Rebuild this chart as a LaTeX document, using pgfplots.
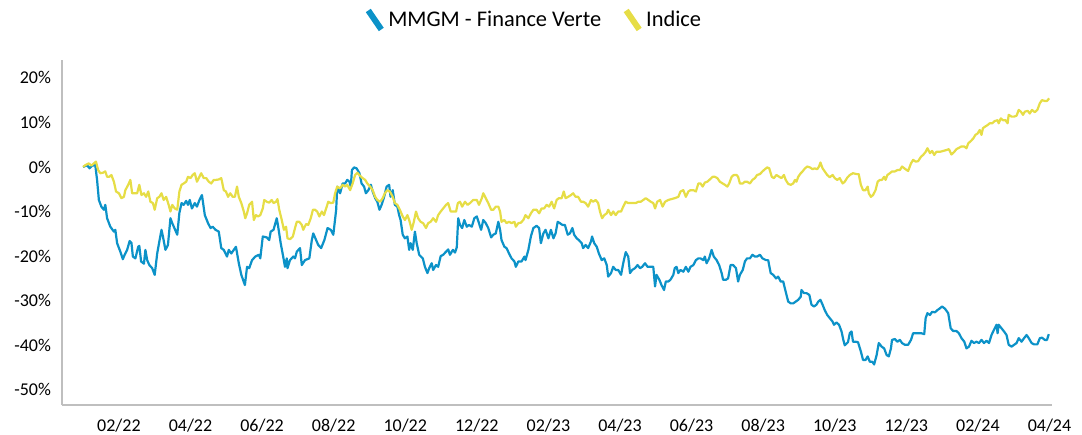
\documentclass[border=0pt]{standalone}
\usepackage{fontspec}
\setmainfont{Carlito}
\usepackage{pgfplots}
\usepackage{pgfplotstable}
\pgfplotsset{compat=1.18}
\definecolor{fundblue}{RGB}{12,146,200}
\definecolor{idxyellow}{RGB}{230,221,70}
\definecolor{axgray}{RGB}{191,191,191}

\pgfplotstableread{
m v
0.00 0.0
0.11 0.4
0.18 -0.3
0.25 0.3
0.34 0.4
0.39 -2.9
0.44 -7.4
0.51 -8.9
0.58 -9.6
0.62 -8.5
0.67 -11.5
0.76 -13.4
0.86 -14.5
0.90 -14.1
0.95 -17.1
1.04 -19.0
1.11 -20.7
1.16 -19.7
1.23 -18.6
1.30 -16.6
1.35 -17.0
1.39 -20.1
1.46 -20.5
1.54 -17.9
1.57 -17.7
1.62 -21.2
1.70 -21.7
1.74 -18.6
1.79 -20.9
1.85 -22.0
1.93 -22.7
2.00 -24.2
2.07 -19.4
2.13 -16.7
2.19 -14.1
2.23 -15.6
2.30 -18.6
2.37 -17.5
2.44 -11.5
2.49 -12.6
2.55 -13.7
2.63 -15.2
2.69 -10.3
2.75 -8.1
2.81 -8.5
2.88 -7.6
2.93 -8.5
2.98 -7.4
3.04 -9.3
3.12 -8.1
3.18 -8.9
3.25 -7.4
3.32 -6.3
3.40 -10.8
3.49 -12.6
3.56 -13.7
3.62 -13.4
3.70 -14.1
3.79 -14.5
3.86 -18.2
3.93 -18.6
4.02 -20.1
4.07 -18.6
4.14 -19.4
4.21 -18.6
4.27 -17.9
4.35 -21.6
4.42 -24.2
4.52 -26.5
4.58 -22.4
4.64 -22.7
4.72 -20.9
4.81 -20.1
4.91 -19.7
4.95 -20.5
5.02 -15.6
5.13 -15.8
5.20 -16.4
5.24 -14.5
5.32 -14.1
5.41 -11.5
5.45 -13.4
5.52 -17.1
5.59 -20.1
5.64 -22.4
5.69 -20.5
5.71 -22.7
5.78 -20.9
5.87 -20.1
5.92 -20.5
5.97 -19.0
6.06 -18.2
6.11 -22.0
6.20 -20.9
6.32 -20.5
6.39 -16.4
6.43 -14.9
6.51 -16.4
6.57 -17.5
6.65 -18.2
6.74 -16.4
6.83 -13.7
6.92 -14.1
6.99 -15.2
7.07 -9.6
7.10 -4.4
7.18 -5.9
7.25 -3.7
7.32 -3.7
7.38 -2.9
7.44 -3.3
7.48 -4.4
7.51 -0.7
7.57 -0.1
7.64 -0.3
7.72 -1.4
7.78 -3.7
7.85 -4.4
7.90 -5.9
7.97 -5.2
8.04 -4.0
8.09 -5.5
8.16 -7.0
8.22 -7.8
8.28 -9.6
8.34 -8.5
8.41 -6.7
8.48 -4.4
8.55 -4.0
8.59 -6.7
8.65 -5.2
8.71 -8.5
8.78 -8.9
8.83 -10.8
8.87 -11.9
8.93 -15.2
8.99 -16.0
9.06 -15.6
9.11 -18.6
9.15 -17.1
9.21 -18.6
9.27 -14.5
9.32 -17.1
9.39 -19.7
9.49 -20.5
9.55 -22.4
9.62 -23.8
9.67 -22.7
9.74 -21.6
9.78 -23.1
9.86 -22.0
9.92 -22.4
9.99 -20.0
10.06 -19.7
10.14 -19.0
10.20 -18.5
10.25 -19.7
10.33 -18.6
10.39 -19.2
10.44 -18.0
10.48 -11.5
10.53 -13.0
10.59 -13.7
10.65 -11.9
10.72 -13.4
10.78 -13.0
10.86 -13.4
10.93 -11.5
11.00 -11.1
11.06 -12.6
11.12 -14.1
11.18 -11.9
11.25 -12.6
11.32 -13.7
11.40 -15.8
11.46 -15.2
11.53 -14.9
11.60 -12.3
11.65 -14.1
11.69 -16.4
11.77 -17.9
11.83 -18.2
11.90 -19.4
11.97 -20.5
12.05 -21.2
12.09 -22.4
12.16 -21.2
12.25 -21.2
12.33 -20.1
12.36 -20.9
12.44 -18.6
12.51 -15.6
12.58 -13.7
12.67 -13.2
12.74 -13.7
12.79 -17.1
12.86 -14.9
12.92 -14.1
13.00 -16.0
13.07 -14.1
13.14 -16.0
13.20 -14.9
13.26 -12.3
13.32 -12.6
13.39 -13.0
13.46 -13.0
13.54 -15.2
13.60 -14.9
13.67 -13.7
13.72 -15.2
13.79 -16.0
13.85 -16.4
13.93 -17.1
13.97 -18.2
14.04 -17.5
14.11 -18.2
14.19 -16.7
14.22 -15.6
14.28 -17.1
14.35 -17.9
14.41 -19.4
14.49 -20.9
14.56 -20.5
14.63 -22.0
14.67 -24.6
14.75 -23.8
14.81 -22.4
14.88 -23.1
14.95 -23.1
15.03 -24.2
15.09 -21.6
15.16 -19.1
15.23 -20.1
15.28 -23.8
15.34 -23.1
15.42 -22.7
15.49 -22.0
15.56 -22.7
15.62 -22.4
15.70 -21.6
15.77 -22.4
15.84 -22.4
15.93 -22.4
15.98 -26.8
16.02 -24.2
16.10 -25.3
16.16 -26.5
16.23 -27.6
16.28 -25.7
16.35 -25.7
16.41 -25.3
16.49 -24.2
16.53 -22.7
16.58 -22.4
16.63 -23.8
16.69 -23.1
16.77 -23.5
16.84 -22.4
16.91 -23.5
16.97 -22.4
17.05 -22.0
17.12 -20.9
17.19 -20.5
17.25 -20.5
17.33 -20.9
17.37 -20.1
17.42 -21.6
17.49 -20.5
17.56 -18.6
17.62 -20.1
17.70 -20.9
17.77 -22.0
17.84 -23.8
17.88 -25.3
17.96 -25.3
18.02 -25.0
18.09 -22.0
18.16 -22.0
18.24 -22.7
18.30 -25.7
18.35 -24.2
18.43 -23.1
18.49 -21.2
18.55 -20.5
18.63 -20.5
18.70 -19.7
18.77 -20.1
18.83 -20.1
18.91 -19.7
18.98 -20.5
19.08 -20.9
19.14 -20.9
19.21 -23.8
19.28 -24.2
19.36 -25.0
19.42 -24.6
19.49 -25.7
19.56 -25.7
19.63 -28.0
19.70 -30.2
19.77 -30.6
19.84 -30.6
19.91 -30.2
19.98 -29.8
20.05 -29.1
20.07 -27.6
20.14 -28.3
20.21 -28.3
20.29 -28.7
20.35 -30.9
20.42 -31.3
20.49 -30.9
20.54 -30.2
20.60 -29.8
20.66 -30.9
20.72 -32.1
20.79 -33.2
20.86 -33.9
20.94 -34.7
20.98 -35.4
21.05 -34.9
21.12 -35.4
21.19 -36.9
21.24 -38.8
21.28 -40.0
21.37 -39.3
21.42 -37.3
21.47 -36.9
21.51 -39.2
21.58 -39.2
21.65 -39.3
21.73 -41.4
21.79 -43.3
21.86 -43.3
21.92 -42.5
21.98 -43.7
22.05 -43.7
22.10 -44.3
22.17 -42.2
22.23 -39.5
22.31 -40.3
22.38 -40.7
22.45 -42.2
22.51 -42.5
22.57 -40.7
22.60 -38.8
22.68 -38.6
22.75 -39.2
22.82 -38.8
22.88 -39.5
22.96 -39.9
23.05 -39.9
23.13 -38.8
23.19 -37.3
23.26 -37.3
23.33 -37.3
23.42 -37.3
23.50 -37.5
23.54 -33.9
23.59 -32.8
23.66 -33.2
23.72 -32.5
23.80 -32.6
23.87 -32.1
23.94 -31.7
24.00 -31.3
24.08 -31.8
24.17 -32.8
24.24 -36.2
24.31 -36.8
24.40 -36.8
24.47 -37.3
24.54 -38.4
24.62 -39.2
24.68 -40.7
24.75 -40.3
24.82 -39.0
24.89 -39.5
24.96 -39.2
25.03 -39.5
25.10 -38.8
25.17 -39.5
25.24 -39.0
25.31 -39.5
25.38 -37.7
25.45 -36.5
25.52 -35.4
25.55 -37.3
25.58 -35.4
25.66 -36.2
25.73 -36.9
25.80 -37.7
25.86 -39.9
25.94 -40.3
26.01 -39.9
26.08 -39.5
26.14 -38.4
26.22 -39.2
26.29 -38.4
26.36 -37.7
26.42 -38.4
26.50 -39.5
26.57 -39.8
26.66 -39.8
26.73 -38.4
26.79 -38.3
26.87 -38.8
26.93 -38.8
26.98 -37.5
}\fund

\pgfplotstableread{
m v
0.00 0.0
0.06 0.4
0.16 0.8
0.23 0.3
0.30 0.8
0.36 1.2
0.42 -0.7
0.48 -1.4
0.55 -1.3
0.62 -1.0
0.67 -2.2
0.73 -2.2
0.79 -1.8
0.86 -3.3
0.92 -5.5
1.00 -5.9
1.07 -7.0
1.14 -6.7
1.18 -5.2
1.26 -4.0
1.32 -2.9
1.37 -5.9
1.44 -5.9
1.51 -5.9
1.57 -4.0
1.63 -6.3
1.70 -5.9
1.76 -6.7
1.82 -5.5
1.88 -7.8
1.95 -8.1
2.00 -9.6
2.07 -7.0
2.13 -6.7
2.19 -5.9
2.25 -7.4
2.32 -6.7
2.39 -8.5
2.44 -10.0
2.49 -8.5
2.56 -9.3
2.63 -9.6
2.69 -5.5
2.75 -4.0
2.81 -3.7
2.88 -3.3
2.93 -2.2
3.00 -2.5
3.06 -1.8
3.12 -1.4
3.18 -3.3
3.25 -2.2
3.30 -1.4
3.37 -2.5
3.44 -2.5
3.51 -3.3
3.58 -3.7
3.65 -2.9
3.71 -2.9
3.79 -2.8
3.86 -2.5
3.93 -5.2
3.99 -5.5
4.05 -6.7
4.11 -5.9
4.18 -6.7
4.24 -6.7
4.30 -4.4
4.35 -6.7
4.42 -8.1
4.49 -10.0
4.53 -11.5
4.58 -10.4
4.64 -8.5
4.72 -7.8
4.77 -11.9
4.83 -10.8
4.89 -11.1
4.95 -10.8
5.02 -9.3
5.06 -7.4
5.13 -7.8
5.20 -8.0
5.27 -7.4
5.32 -8.1
5.39 -7.8
5.43 -7.2
5.48 -9.6
5.55 -11.9
5.61 -14.1
5.67 -13.4
5.71 -16.0
5.78 -16.2
5.86 -15.6
5.92 -13.7
5.97 -12.3
6.04 -12.3
6.11 -13.0
6.15 -14.1
6.23 -12.8
6.29 -13.0
6.36 -11.5
6.42 -9.6
6.48 -9.6
6.54 -10.0
6.60 -11.1
6.67 -10.0
6.73 -10.8
6.79 -9.3
6.85 -7.8
6.92 -8.1
6.99 -8.0
7.04 -5.9
7.10 -4.4
7.18 -4.8
7.25 -4.0
7.32 -4.4
7.38 -4.0
7.46 -5.2
7.53 -3.7
7.60 -1.8
7.66 -1.3
7.74 -2.0
7.81 -2.5
7.88 -2.9
7.94 -3.7
8.02 -4.4
8.09 -5.2
8.16 -6.7
8.22 -7.4
8.30 -7.8
8.37 -7.0
8.43 -5.9
8.50 -5.2
8.57 -5.5
8.65 -6.7
8.71 -8.1
8.78 -8.5
8.85 -9.6
8.93 -11.1
8.99 -11.9
9.06 -10.8
9.11 -11.9
9.18 -14.1
9.24 -12.3
9.30 -10.0
9.36 -11.5
9.43 -12.3
9.50 -12.6
9.58 -13.7
9.64 -12.6
9.71 -12.3
9.78 -11.5
9.86 -12.3
9.92 -10.8
9.99 -10.0
10.06 -9.3
10.14 -8.5
10.20 -8.1
10.27 -10.0
10.34 -10.0
10.42 -10.0
10.47 -8.1
10.53 -7.8
10.59 -8.9
10.67 -7.8
10.74 -8.5
10.81 -8.1
10.90 -7.4
11.00 -7.4
11.06 -8.5
11.14 -7.0
11.18 -5.9
11.25 -7.0
11.32 -8.1
11.40 -9.6
11.46 -9.6
11.53 -8.9
11.60 -8.9
11.65 -10.0
11.69 -12.3
11.77 -11.9
11.83 -12.6
11.90 -12.3
11.97 -12.6
12.05 -12.3
12.09 -13.4
12.16 -12.6
12.23 -12.5
12.30 -11.9
12.36 -10.8
12.44 -11.5
12.51 -10.4
12.58 -9.6
12.67 -9.6
12.74 -10.4
12.81 -9.3
12.88 -9.3
12.95 -8.5
13.02 -8.9
13.09 -7.8
13.16 -9.3
13.23 -7.4
13.29 -7.0
13.37 -7.0
13.43 -5.5
13.48 -7.0
13.55 -6.7
13.63 -6.3
13.69 -5.9
13.76 -6.7
13.83 -6.7
13.91 -7.8
13.97 -7.8
14.04 -8.1
14.11 -8.9
14.19 -7.4
14.25 -7.8
14.32 -7.4
14.39 -8.1
14.44 -10.0
14.50 -11.5
14.56 -10.8
14.63 -10.4
14.67 -9.6
14.75 -10.8
14.81 -10.0
14.88 -10.8
14.95 -10.0
15.03 -10.0
15.09 -8.9
15.16 -7.8
15.23 -8.1
15.31 -8.1
15.37 -8.1
15.44 -8.1
15.51 -7.8
15.58 -7.8
15.65 -7.4
15.72 -7.0
15.79 -7.4
15.86 -7.8
15.93 -8.1
15.98 -9.3
16.04 -7.8
16.12 -7.4
16.19 -8.9
16.26 -7.8
16.35 -7.4
16.44 -7.2
16.53 -7.0
16.63 -6.7
16.69 -5.5
16.77 -5.2
16.84 -6.7
16.91 -5.5
16.97 -5.2
17.05 -5.2
17.12 -5.5
17.19 -3.7
17.25 -3.7
17.31 -4.4
17.37 -3.5
17.44 -3.3
17.51 -2.8
17.59 -2.2
17.65 -2.2
17.72 -2.5
17.79 -3.3
17.87 -3.7
17.93 -4.0
18.00 -4.4
18.05 -3.7
18.12 -2.2
18.18 -1.8
18.26 -1.8
18.30 -2.2
18.35 -3.7
18.43 -3.7
18.49 -3.3
18.55 -3.3
18.63 -3.7
18.70 -2.9
18.77 -2.5
18.83 -1.8
18.91 -1.6
18.98 -1.0
19.05 -0.5
19.11 -0.1
19.17 -0.3
19.24 -2.2
19.30 -2.5
19.37 -1.8
19.45 -2.2
19.51 -2.5
19.58 -1.8
19.63 -2.9
19.70 -3.8
19.77 -4.0
19.84 -3.7
19.89 -2.9
19.93 -3.3
19.98 -2.2
20.05 -1.4
20.10 -1.0
20.17 -0.3
20.23 0.1
20.31 -0.1
20.38 -0.5
20.44 -0.3
20.51 -0.5
20.56 0.1
20.60 1.0
20.66 -0.3
20.72 -1.0
20.79 -1.8
20.86 -2.3
20.94 -1.8
21.00 -2.5
21.07 -2.9
21.14 -2.5
21.22 -3.7
21.28 -3.3
21.35 -2.4
21.42 -1.8
21.51 -1.4
21.61 -1.6
21.67 -1.6
21.73 -4.0
21.79 -5.2
21.86 -5.2
21.92 -4.4
21.95 -5.9
22.01 -6.7
22.07 -6.3
22.14 -5.2
22.20 -3.3
22.26 -2.9
22.32 -2.9
22.38 -2.2
22.42 -2.9
22.47 -1.8
22.54 -1.4
22.60 -1.0
22.68 -1.0
22.75 -0.7
22.82 -0.7
22.88 0.1
22.96 -0.4
23.05 -0.9
23.13 0.8
23.19 1.6
23.26 1.2
23.33 1.3
23.41 2.3
23.47 2.7
23.54 3.4
23.59 4.2
23.66 3.1
23.72 3.6
23.78 2.7
23.84 3.4
23.94 3.4
24.03 3.6
24.12 3.8
24.19 4.0
24.26 2.8
24.34 3.4
24.40 4.0
24.47 4.3
24.54 4.6
24.62 4.6
24.68 4.2
24.73 5.3
24.80 5.8
24.87 6.4
24.93 7.2
24.99 7.5
25.05 8.3
25.10 7.2
25.14 8.7
25.19 9.0
25.27 9.4
25.33 9.8
25.40 9.8
25.47 10.3
25.55 10.5
25.58 9.8
25.64 10.9
25.70 10.5
25.77 10.5
25.83 9.8
25.86 11.7
25.94 11.3
26.01 11.3
26.08 11.5
26.14 12.8
26.20 12.4
26.26 11.7
26.31 12.4
26.39 12.6
26.45 12.0
26.51 12.8
26.59 12.3
26.66 12.8
26.73 14.3
26.79 15.0
26.87 14.8
26.93 14.8
26.99 15.4
}\indice

\begin{document}
\begin{tikzpicture}
\begin{axis}[
  name=ax,
  scale only axis,
  width=495pt, height=172.5pt,
  xmin=-0.59, xmax=27.07,
  ymin=-53.4, ymax=24,
  axis x line=bottom, axis y line=left,
  axis line style={-, draw=axgray, line width=1pt},
  xtick={1,3,...,27},
  xticklabels={02/22,04/22,06/22,08/22,10/22,12/22,02/23,04/23,06/23,08/23,10/23,12/23,02/24,04/24},
  ytick={-50,-40,-30,-20,-10,0,10,20},
  yticklabels={-50\%,-40\%,-30\%,-20\%,-10\%,0\%,10\%,20\%},
  major tick length=0pt,
  tick label style={font=\fontsize{9}{10}\selectfont, text=black},
  xticklabel style={yshift=-3.5pt},
  yticklabel style={xshift=-2pt},
  /pgf/number format/assume math mode=true,
  legend style={
    at={(rel axis cs:0.478,1.116)}, anchor=center,
    draw=none, fill=none,
    font=\fontsize{11.2}{13}\selectfont,
    legend columns=2,
    /tikz/every even column/.append style={column sep=9pt},
    inner sep=0pt,
  },
  legend cell align=left,
  legend image code/.code={\draw[#1, line width=3pt, line cap=butt] (0pt,4.75pt) -- (6.5pt,-4.75pt);},
  every axis plot/.append style={line width=1.1pt, line join=round},
]
\addplot[fundblue] table[x=m, y=v] {\fund};
\addlegendentry{MMGM - Finance Verte}
\addplot[idxyellow] table[x=m, y=v] {\indice};
\addlegendentry{Indice}
\end{axis}
\pgfresetboundingbox
\useasboundingbox (ax.south west) ++(-31pt,-14.5pt) rectangle ++(541pt,217pt);
\end{tikzpicture}
\end{document}
